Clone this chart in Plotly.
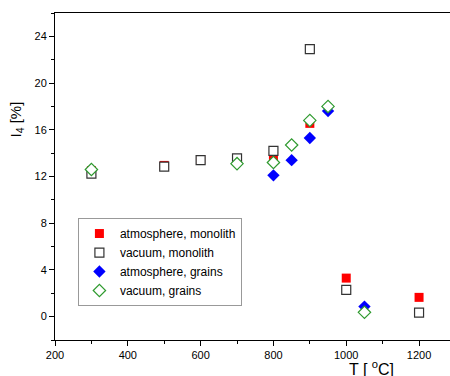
import plotly.graph_objects as go

# Data
atm_mono_T = [300, 500, 600, 700, 800, 900, 1000, 1200]
atm_mono_I = [12.5, 12.95, 13.45, 13.5, 13.7, 16.55, 3.3, 1.65]

vac_mono_T = [300, 500, 600, 700, 800, 900, 1000, 1200]
vac_mono_I = [12.25, 12.85, 13.4, 13.55, 14.2, 22.9, 2.3, 0.34]

atm_gr_T = [300, 800, 850, 900, 950, 1050]
atm_gr_I = [12.6, 12.1, 13.4, 15.3, 17.6, 0.86]

vac_gr_T = [300, 700, 800, 850, 900, 950, 1050]
vac_gr_I = [12.6, 13.1, 13.2, 14.7, 16.8, 18.0, 0.37]

x_ticks = [200, 400, 600, 800, 1000, 1200]
y_ticks = [0, 4, 8, 12, 16, 20, 24]

FONT = "Liberation Sans, Arial, sans-serif"

fig = go.Figure()
fig.add_trace(go.Scatter(x=atm_mono_T, y=atm_mono_I, mode="markers",
                         name="atmosphere, monolith",
                         marker=dict(symbol="square", size=9, color="#ff0000",
                                     line=dict(width=0))))
fig.add_trace(go.Scatter(x=vac_mono_T, y=vac_mono_I, mode="markers",
                         name="vacuum, monolith",
                         marker=dict(symbol="square", size=9, color="white",
                                     line=dict(width=1.2, color="#333333"))))
fig.add_trace(go.Scatter(x=atm_gr_T, y=atm_gr_I, mode="markers",
                         name="atmosphere, grains",
                         marker=dict(symbol="diamond", size=9.5, color="#0000ff",
                                     line=dict(width=0))))
fig.add_trace(go.Scatter(x=vac_gr_T, y=vac_gr_I, mode="markers",
                         name="vacuum, grains",
                         marker=dict(symbol="diamond", size=9.5, color="white",
                                     line=dict(width=1.2, color="#2e9a2e"))))

fig.update_layout(
    width=450, height=376,
    margin=dict(l=55, r=0, t=13, b=36),
    paper_bgcolor="white", plot_bgcolor="white",
    font=dict(family=FONT, size=11, color="black"),
    showlegend=True,
    legend=dict(x=0.058, y=0.373, xanchor="left", yanchor="top",
                bordercolor="#999999", borderwidth=1, bgcolor="white",
                font=dict(size=12, family=FONT),
                itemwidth=31, tracegroupgap=0),
    xaxis=dict(range=[200, 1285], tickvals=x_ticks, showgrid=False, zeroline=False,
               showline=True, linecolor="black", linewidth=1, mirror=True,
               ticks="outside", ticklen=5, tickcolor="black",
               minor=dict(dtick=100, ticks="outside", ticklen=3, tickcolor="black"),
               tickfont=dict(size=11)),
    yaxis=dict(range=[-2, 26], tickvals=y_ticks, showgrid=False, zeroline=False,
               showline=True, linecolor="black", linewidth=1, mirror=False,
               ticks="outside", ticklen=5, tickcolor="black",
               minor=dict(dtick=2, ticks="outside", ticklen=3, tickcolor="black"),
               tickfont=dict(size=11)),
)

fig.add_annotation(text="I<sub>4</sub> [%]", xref="paper", yref="paper",
                   x=-0.1, y=(340 - 120) / 327, textangle=-90, showarrow=False,
                   font=dict(size=15, family=FONT), xanchor="center", yanchor="middle")
fig.add_annotation(text="T [ <sup>o</sup>C]", xref="paper", yref="paper",
                   x=(371 - 55) / 395, y=-0.049, showarrow=False,
                   font=dict(size=16, family=FONT), xanchor="center", yanchor="top")

fig.write_html("out.html", config={"displayModeBar": False},
               post_script="document.body.style.margin='0';")
